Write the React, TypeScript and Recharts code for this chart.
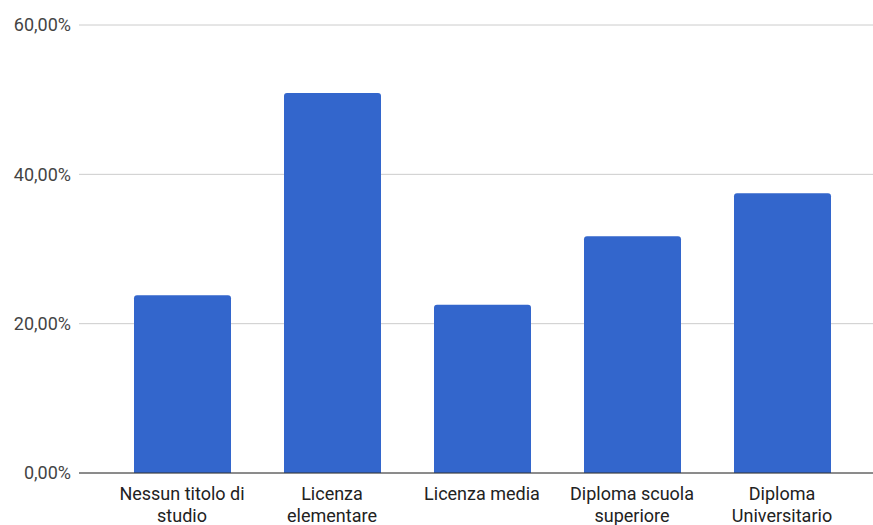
import { BarChart, Bar, XAxis, YAxis, CartesianGrid } from "recharts";

const categories = [
  "Nessun titolo di studio",
  "Licenza elementare",
  "Licenza media",
  "Diploma scuola superiore",
  "Diploma Universitario",
];

// how each category label wraps on the axis
const categoryLines = [
  ["Nessun titolo di", "studio"],
  ["Licenza", "elementare"],
  ["Licenza media"],
  ["Diploma scuola", "superiore"],
  ["Diploma", "Universitario"],
];

const percentages = [23.8, 50.9, 22.55, 31.7, 37.45];

const yTicks = [0, 20, 40, 60];

const data = categories.map((name, i) => ({
  name,
  value: percentages[i],
}));

const formatPct = (v: number) => v.toFixed(2).replace(".", ",") + "%";

function CategoryTick({ x, y, payload }: any) {
  const idx = categories.indexOf(payload.value);
  const lines = categoryLines[idx] || [payload.value];
  return (
    <text
      x={x}
      y={y}
      textAnchor="middle"
      fill="#222"
      fontSize={18}
      fontFamily="Roboto"
    >
      {lines.map((line, i) => (
        <tspan key={i} x={x} dy={i === 0 ? 19 : 22}>
          {line}
        </tspan>
      ))}
    </text>
  );
}

export default function App() {
  return (
    <div
      style={{
        position: "absolute",
        left: 0,
        top: 0,
        width: 873,
        height: 525,
        background: "#fff",
        fontFamily: "Roboto",
        overflow: "hidden",
      }}
    >
      <BarChart
        width={873}
        height={525}
        data={data}
        margin={{ top: 25, right: 0, left: 0, bottom: 0 }}
      >
        <CartesianGrid vertical={false} stroke="#ccc" />
        <XAxis
          dataKey="name"
          height={52}
          interval={0}
          tickLine={false}
          axisLine={{ stroke: "#333" }}
          padding={{ left: 28, right: 16 }}
          tick={<CategoryTick />}
        />
        <YAxis
          width={79}
          domain={[0, 60]}
          ticks={yTicks}
          tickFormatter={formatPct}
          axisLine={false}
          tickLine={false}
          tick={{ fill: "#444", fontSize: 18, fontFamily: "Roboto" }}
        />
        <Bar
          dataKey="value"
          fill="#3366cc"
          barSize={97}
          radius={[3, 3, 0, 0]}
          isAnimationActive={false}
        />
      </BarChart>
    </div>
  );
}
